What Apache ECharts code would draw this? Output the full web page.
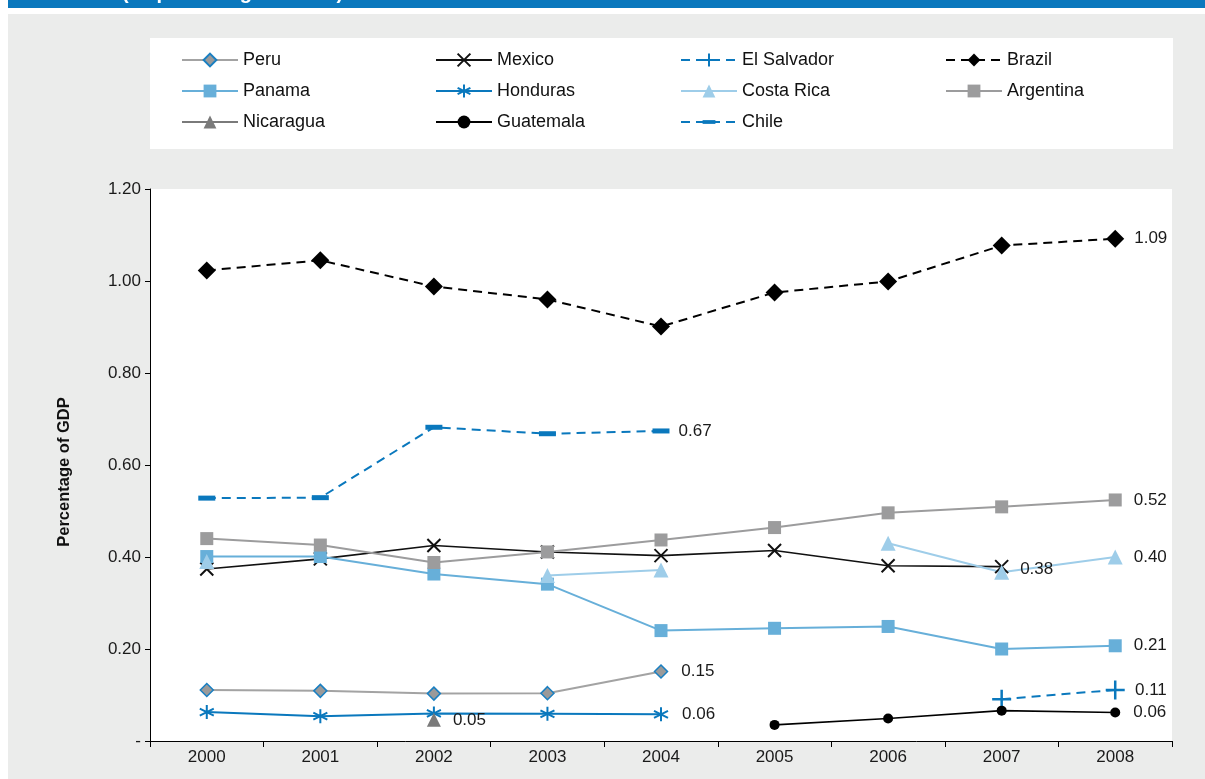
<!DOCTYPE html>
<html>
<head>
<meta charset="utf-8">
<script src="https://cdn.jsdelivr.net/npm/echarts@6/dist/echarts.min.js"></script>
<style>
  html, body { margin: 0; padding: 0; background: #ffffff; }
  #chart { width: 1205px; height: 779px; }
</style>
</head>
<body>
<div id="chart"></div>
<script>
// Years on the category axis
const years = ['2000', '2001', '2002', '2003', '2004', '2005', '2006', '2007', '2008'];

// Expenditure as a percentage of GDP (null = no data for that year)
const peru       = [0.111, 0.109, 0.103, 0.104, 0.151, null, null, null, null];
const mexico     = [0.374, 0.396, 0.425, 0.411, 0.403, 0.414, 0.381, 0.379, null];
const elSalvador = [null, null, null, null, null, null, null, 0.091, 0.111];
const brazil     = [1.023, 1.045, 0.988, 0.960, 0.901, 0.975, 0.999, 1.077, 1.092];
const panama     = [0.401, 0.401, 0.363, 0.341, 0.240, 0.245, 0.249, 0.200, 0.207];
const honduras   = [0.063, 0.054, 0.060, 0.059, 0.058, null, null, null, null];
const costaRica  = [0.390, null, null, 0.360, 0.372, null, 0.430, 0.367, 0.400];
const argentina  = [0.440, 0.426, 0.388, 0.411, 0.437, 0.464, 0.496, 0.509, 0.524];
const nicaragua  = [null, null, 0.046, null, null, null, null, null, null];
const guatemala  = [null, null, null, null, null, 0.035, 0.049, 0.066, 0.062];
const chile      = [0.528, 0.529, 0.682, 0.668, 0.674, null, null, null, null];

// Value-axis ticks
const yTicks = { min: 0, max: 1.2, interval: 0.2 };

const FONT = '"Liberation Sans", Arial, Helvetica, sans-serif';
const BLUE = '#0a78bd';

// Symbol shapes
const SYM_X = 'path://M0,0L10,10M10,0L0,10';
const SYM_STAR = 'path://M5,0L5,10M0.7,2.5L9.3,7.5M0.7,7.5L9.3,2.5';
const SYM_PLUS = 'path://M5,0L5,10M0,5L10,5';
const SYM_DASH = 'path://M0,0M0,6L17,6L17,11L0,11ZM17,17';

// Turn a value list into series data, with a value label on one point
function withLabel(values, idx, distance, offset) {
  return values.map((v, i) => {
    if (i !== idx || v === null) return v;
    return {
      value: v,
      label: {
        show: true,
        position: 'right',
        distance: distance,
        offset: offset || [0, 0],
        formatter: p => Number(p.value).toFixed(2),
        fontFamily: FONT,
        fontSize: 17,
        color: '#1a1a1a'
      }
    };
  });
}

function lineSeries(name, data, opts) {
  return Object.assign({
    name: name,
    type: 'line',
    data: data,
    connectNulls: false,
    showAllSymbol: true,
    z: 2
  }, opts);
}

const series = [
  lineSeries('Peru', withLabel(peru, 4, 13), {
    symbol: 'diamond', symbolSize: 13,
    lineStyle: { color: '#a3a3a3', width: 2 },
    itemStyle: { color: '#9a9a9a', borderColor: '#1a7fc1', borderWidth: 1.5 }
  }),
  lineSeries('Mexico', withLabel(mexico, 7, 11, [0, 3]), {
    symbol: SYM_X, symbolSize: 13,
    lineStyle: { color: '#111111', width: 1.6 },
    itemStyle: { color: '#111111', borderColor: '#111111', borderWidth: 2 }
  }),
  lineSeries('El Salvador', withLabel(elSalvador, 8, 9), {
    symbol: SYM_PLUS, symbolSize: 19,
    lineStyle: { color: BLUE, width: 2, type: [9, 6] },
    itemStyle: { color: BLUE, borderColor: BLUE, borderWidth: 2.5 }
  }),
  lineSeries('Brazil', withLabel(brazil, 8, 10), {
    symbol: 'diamond', symbolSize: 18,
    lineStyle: { color: '#000000', width: 2, type: [9, 6] },
    itemStyle: { color: '#000000' }
  }),
  lineSeries('Panama', withLabel(panama, 8, 12), {
    symbol: 'rect', symbolSize: 13,
    lineStyle: { color: '#67afd9', width: 2 },
    itemStyle: { color: '#67afd9' }
  }),
  lineSeries('Honduras', withLabel(honduras, 4, 13), {
    symbol: SYM_STAR, symbolSize: 14,
    lineStyle: { color: BLUE, width: 2 },
    itemStyle: { color: BLUE, borderColor: BLUE, borderWidth: 2 }
  }),
  lineSeries('Costa Rica', withLabel(costaRica, 8, 11), {
    symbol: 'triangle', symbolSize: 15,
    lineStyle: { color: '#9ecde9', width: 2 },
    itemStyle: { color: '#9ecde9' }
  }),
  lineSeries('Argentina', withLabel(argentina, 8, 12), {
    symbol: 'rect', symbolSize: 13,
    lineStyle: { color: '#9c9c9d', width: 2 },
    itemStyle: { color: '#9c9c9d' }
  }),
  lineSeries('Nicaragua', withLabel(nicaragua, 2, 12), {
    symbol: 'triangle', symbolSize: 14,
    lineStyle: { color: '#7a7a7a', width: 2 },
    itemStyle: { color: '#7a7a7a' }
  }),
  lineSeries('Guatemala', withLabel(guatemala, 8, 13), {
    symbol: 'circle', symbolSize: 10,
    lineStyle: { color: '#000000', width: 1.6 },
    itemStyle: { color: '#000000' }
  }),
  lineSeries('Chile', withLabel(chile, 4, 9), {
    symbol: SYM_DASH, symbolSize: 17,
    lineStyle: { color: BLUE, width: 2, type: [9, 6] },
    itemStyle: { color: BLUE }
  })
];

// Legend laid out as four columns of three rows
const legendBase = {
  orient: 'vertical',
  top: 51,
  itemWidth: 56,
  itemHeight: 16,
  itemGap: 13,
  padding: 0,
  selectedMode: false,
  textStyle: { fontFamily: FONT, fontSize: 18, color: '#111111' }
};
const legendColumns = [
  { left: 181, data: ['Peru', 'Panama', 'Nicaragua'] },
  { left: 435, data: ['Mexico', 'Honduras', 'Guatemala'] },
  { left: 680, data: ['El Salvador', 'Costa Rica', 'Chile'] },
  { left: 945, data: ['Brazil', 'Argentina'] }
];

const chart = echarts.init(document.getElementById('chart'), null, { renderer: 'canvas' });
chart.setOption({
  animation: false,
  backgroundColor: '#ffffff',
  graphic: [
    { type: 'rect', shape: { x: 8, y: 14, width: 1197, height: 765 }, style: { fill: '#ebeceb' }, z: -10 },
    { type: 'rect', shape: { x: 8, y: 0, width: 1197, height: 8 }, style: { fill: '#0a78bd' }, z: -10 },
    { type: 'text', x: 122, y: 3, style: { text: '(as percentage of GDP)', fill: '#ffffff', font: 'bold 20px ' + FONT, verticalAlign: 'bottom' }, z: -9 },
    { type: 'rect', shape: { x: 150, y: 38, width: 1023, height: 111 }, style: { fill: '#ffffff' }, z: -9 }
  ],
  legend: legendColumns.map(c => Object.assign({}, legendBase, c)),
  grid: {
    left: 150, right: 33, top: 189, bottom: 38,
    show: true, backgroundColor: '#ffffff', borderWidth: 0
  },
  xAxis: {
    type: 'category',
    data: years,
    boundaryGap: true,
    axisLine: { lineStyle: { color: '#000000', width: 1 } },
    axisTick: { show: true, length: 6, interval: 0, alignWithLabel: false, lineStyle: { color: '#000000' } },
    axisLabel: { fontFamily: FONT, fontSize: 17, color: '#1a1a1a', margin: 8, interval: 0 },
    splitLine: { show: false }
  },
  yAxis: {
    type: 'value',
    min: yTicks.min,
    max: yTicks.max,
    interval: yTicks.interval,
    name: 'Percentage of GDP',
    nameLocation: 'middle',
    nameGap: 77,
    nameTextStyle: { fontFamily: FONT, fontSize: 16.5, fontWeight: 'bold', color: '#111111', padding: [0, 14, 0, 0] },
    axisLine: { show: true, lineStyle: { color: '#000000', width: 1 } },
    axisTick: { show: true, length: 5, lineStyle: { color: '#000000' } },
    axisLabel: {
      fontFamily: FONT, fontSize: 17, color: '#1a1a1a', margin: 9,
      formatter: v => (v === 0 ? '-' : v.toFixed(2))
    },
    splitLine: { show: false }
  },
  series: series
});
</script>
</body>
</html>
